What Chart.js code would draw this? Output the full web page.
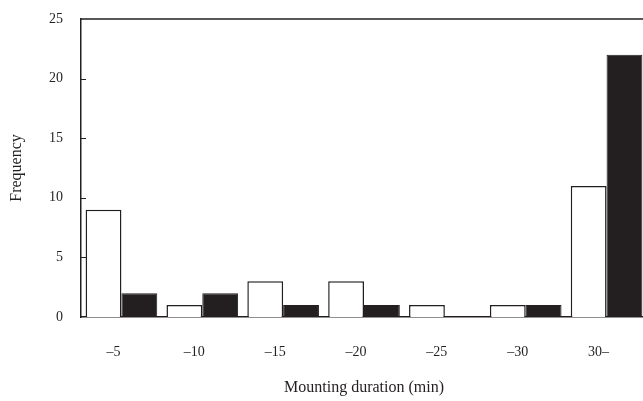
<!DOCTYPE html>
<html>
<head>
<meta charset="utf-8">
<script src="https://cdn.jsdelivr.net/npm/chart.js@4.4.0/dist/chart.umd.min.js"></script>
<style>
  html, body { margin: 0; padding: 0; background: #fff; overflow: hidden; }
  #wrap { width: 647px; height: 401px; }
</style>
</head>
<body>
<div id="wrap"><canvas id="chart"></canvas></div>
<script>
// chart data
const categories = ['\u20135', '\u201310', '\u201315', '\u201320', '\u201325', '\u201330', '30\u2013'];
const whiteValues = [9, 1, 3, 3, 1, 1, 11];
const blackValues = [2, 2, 1, 1, 0, 1, 22];
const yTicks = [0, 5, 10, 15, 20, 25];

const ink = '#231f20';
const serif = '"Liberation Serif", "Times New Roman", serif';

// draws the top frame line and the short inward y ticks
const framePlugin = {
  id: 'frame',
  afterDraw(chart) {
    const ctx = chart.ctx;
    const area = chart.chartArea;
    const y = chart.scales.y;
    ctx.save();
    ctx.strokeStyle = ink;
    ctx.lineWidth = 1.5;
    ctx.beginPath();
    ctx.moveTo(area.left, area.top);
    ctx.lineTo(area.right, area.top);
    ctx.stroke();
    ctx.lineWidth = 1;
    yTicks.forEach(function(v) {
      if (v === 0 || v === 25) return;
      const py = Math.round(y.getPixelForValue(v)) + 0.5;
      ctx.beginPath();
      ctx.moveTo(area.left, py);
      ctx.lineTo(area.left + 5, py);
      ctx.stroke();
    });
    ctx.restore();
  }
};

new Chart(document.getElementById('chart'), {
  type: 'bar',
  data: {
    labels: categories,
    datasets: [{
      data: whiteValues,
      backgroundColor: '#ffffff',
      borderColor: ink,
      borderWidth: 1.5
    }, {
      data: blackValues,
      backgroundColor: ink,
      borderColor: ink,
      borderWidth: 1
    }]
  },
  options: {
    responsive: true,
    maintainAspectRatio: false,
    animation: false,
    layout: { padding: { top: 19, right: 0, left: 0, bottom: 0 } },
    plugins: { legend: { display: false }, tooltip: { enabled: false } },
    datasets: { bar: { categoryPercentage: 0.886, barPercentage: 1 } },
    scales: {
      x: {
        grid: { display: false, drawTicks: false },
        border: { display: true, color: ink, width: 1.5 },
        ticks: { color: ink, padding: 27, labelOffset: -8, font: { family: serif, size: 14 } },
        title: {
          display: true,
          text: 'Mounting duration (min)',
          color: ink,
          font: { family: serif, size: 16 },
          padding: { top: 0, bottom: 4 }
        },
        afterFit: function(s) {
          s.height = 84;
          s.paddingLeft = 0;
          s.paddingRight = 0;
        }
      },
      y: {
        min: 0,
        max: 25,
        grid: { display: false, drawTicks: false },
        border: { display: true, color: ink, width: 1.5 },
        ticks: {
          color: ink,
          padding: 18,
          font: { family: serif, size: 14 },
          stepSize: 5,
          callback: function(v) { return yTicks.indexOf(v) >= 0 ? v : ''; }
        },
        title: {
          display: true,
          text: 'Frequency',
          color: ink,
          font: { family: serif, size: 16 },
          padding: { top: 7, bottom: 0 }
        },
        afterFit: function(s) {
          s.width = 81;
          s.paddingTop = 0;
          s.paddingBottom = 0;
        }
      }
    }
  },
  plugins: [framePlugin]
});
</script>
</body>
</html>
